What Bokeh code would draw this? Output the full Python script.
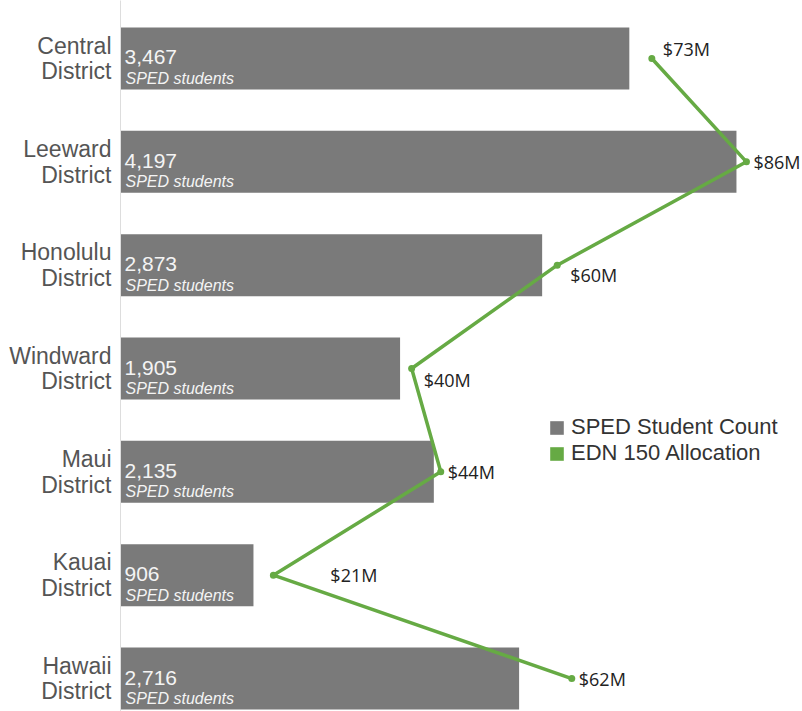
from bokeh.plotting import figure
from bokeh.models import Range1d, FixedTicker, ColumnDataSource, Legend, LegendItem
from bokeh.core.properties import value
from bokeh.embed import file_html
from bokeh.resources import INLINE

districts = ["Central District", "Leeward District", "Honolulu District", "Windward District",
             "Maui District", "Kauai District", "Hawaii District"]
students = [3467, 4197, 2873, 1905, 2135, 906, 2716]
allocation_m = [73, 86, 60, 40, 44, 21, 62]

# label placement (styling, screen px)
alloc_dx = [11, 7, 13, 12, 7, 57, 7]
alloc_dy = [-9, 0, 10, 11, 0, 0, 0]

ypos = list(range(len(districts)))

BAR = "#7a7a7a"
GREEN = "#66aa44"

p = figure(width=802, height=711, output_backend="svg", toolbar_location=None,
           x_range=Range1d(0, 4647), y_range=Range1d(6.319, -0.561),
           min_border_left=120, min_border_right=0, min_border_top=0, min_border_bottom=0)
p.extra_x_ranges = {"money": Range1d(0, 93.7)}
p.outline_line_color = None
p.background_fill_color = "white"
p.border_fill_color = "white"
p.grid.visible = False
p.xaxis.visible = False

ax = p.yaxis[0]
ax.ticker = FixedTicker(ticks=ypos)
ax.major_label_overrides = {i: d.replace(" ", "\n") for i, d in zip(ypos, districts)}
ax.major_tick_line_color = None
ax.minor_tick_line_color = None
ax.axis_line_color = "#dddddd"
ax.axis_line_width = 1
ax.major_label_text_font = "Liberation Sans"
ax.major_label_text_font_size = "23px"
ax.major_label_text_color = "#555555"
ax.major_label_standoff = 3
ax.major_label_text_line_height = 0.98

src = ColumnDataSource(dict(
    y=ypos, students=students,
    num=[f"{v:,}" for v in students],
    sub=["SPED students"] * len(students),
    zero=[0] * len(students),
))
bars = p.hbar(y="y", right="students", left=0, height=0.6, source=src,
              fill_color=BAR, line_color=None)

p.text(x="zero", y="y", text="num", source=src, x_offset=4, y_offset=-1,
       text_font=value("Liberation Sans"), text_font_size="21px", text_color="#f4f4f4",
       text_baseline="alphabetic", text_align="left")
p.text(x="zero", y="y", text="sub", source=src, x_offset=5, y_offset=20,
       text_font=value("Liberation Sans"), text_font_size="16px", text_font_style="italic",
       text_color="#f4f4f4", text_baseline="alphabetic", text_align="left")

lsrc = ColumnDataSource(dict(
    y=ypos, a=allocation_m, lab=[f"${v}M" for v in allocation_m],
    dx=alloc_dx, dy=alloc_dy,
))
p.line(x="a", y="y", source=lsrc, x_range_name="money", line_color=GREEN, line_width=3.5)
p.scatter(x="a", y="y", source=lsrc, x_range_name="money", size=7,
          fill_color=GREEN, line_color=None)
p.text(x="a", y="y", text="lab", source=lsrc, x_range_name="money",
       x_offset="dx", y_offset="dy", text_font=value("Open Sans"), text_font_size="18px",
       text_color="#222222", text_baseline="middle", text_align="left")

# legend swatch for the line series (zero-width bar)
green_dummy = p.hbar(y=[0], left=[0], right=[0], height=0.6, fill_color=GREEN, line_color=None)

legend = Legend(items=[LegendItem(label="SPED Student Count", renderers=[bars]),
                       LegendItem(label="EDN 150 Allocation", renderers=[green_dummy])],
                location=(428, 245), border_line_color=None, background_fill_alpha=0,
                padding=0, margin=0, spacing=0, glyph_width=17, glyph_height=17,
                label_height=22, label_standoff=6,
                label_text_font="Liberation Sans", label_text_font_size="22px",
                label_text_color="#333333")
p.add_layout(legend, "center")

open("out.html", "w").write(file_html(p, INLINE))
